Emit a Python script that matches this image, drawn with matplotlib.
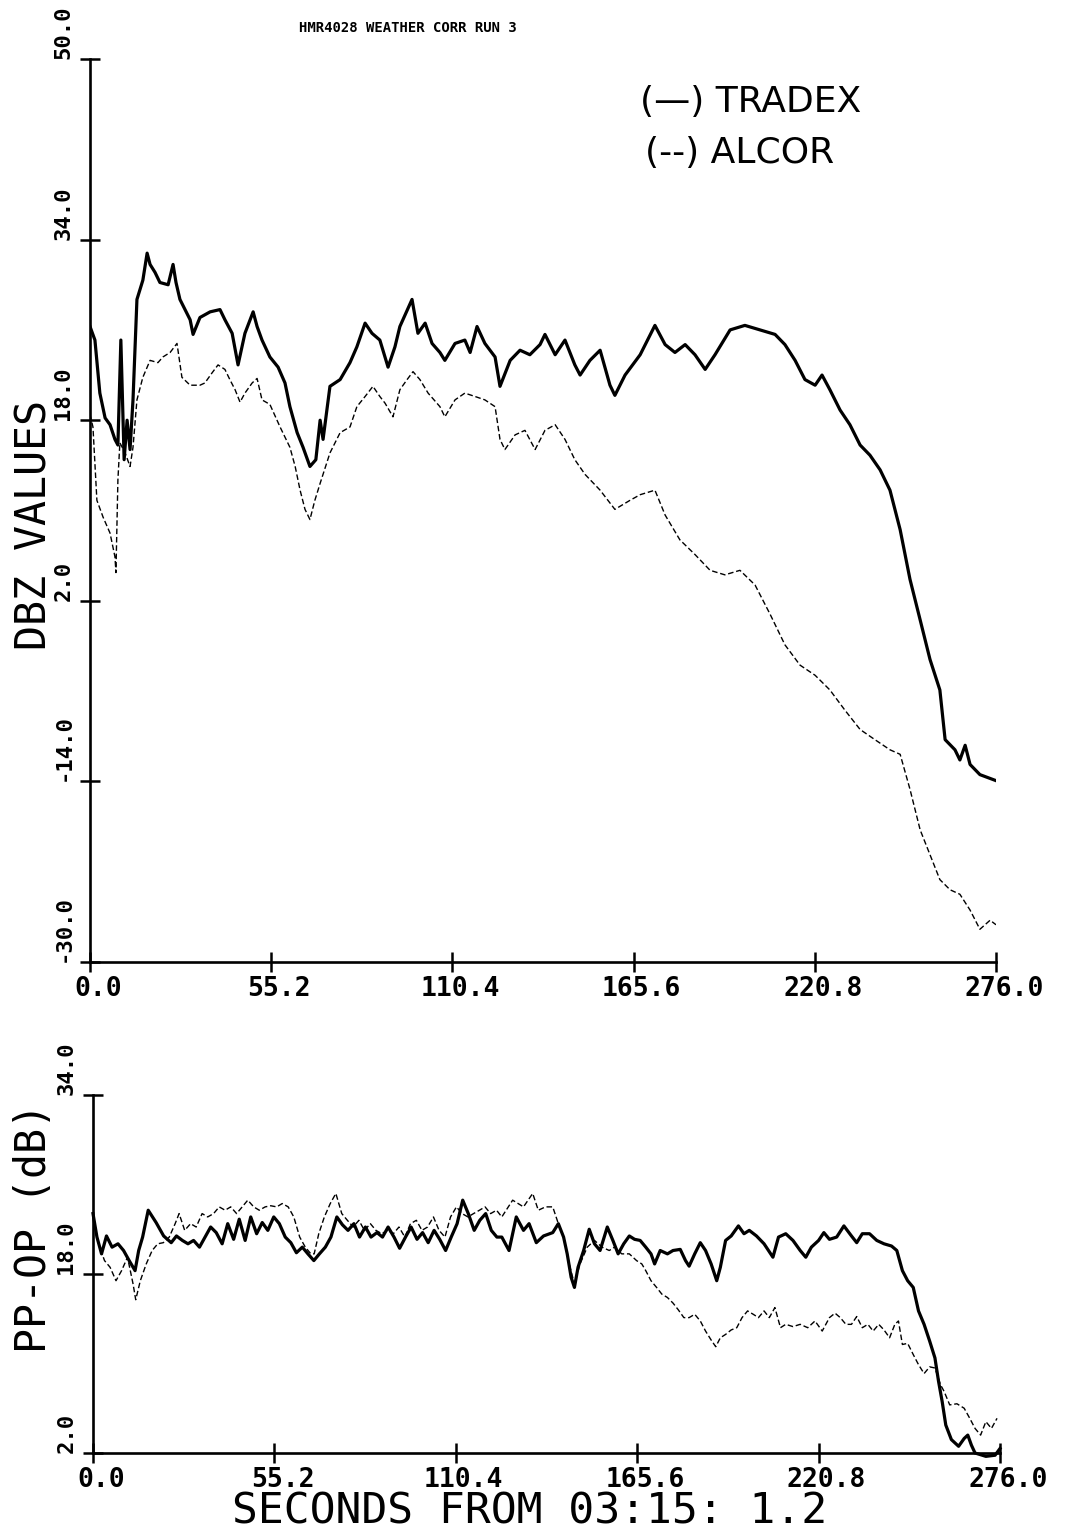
import numpy as np
import matplotlib
matplotlib.use('Agg')
import matplotlib.pyplot as plt
from matplotlib.transforms import ScaledTranslation

# ---- upper panel: DBZ values ----
tradex_t = [0.0, 1.5, 3.0, 4.6, 6.1, 7.6, 8.5, 9.4, 10.4, 11.3, 12.2, 13.1, 14.3, 16.1, 17.4, 18.3,
            19.8, 21.3, 23.8, 25.3, 26.2, 27.4, 30.5, 31.4, 33.5, 36.6, 39.6, 41.1, 43.3, 45.1, 47.2,
            49.7, 50.9, 52.4, 54.8, 57.3, 59.4, 60.9, 63.1, 64.9, 67.0, 68.8, 70.1, 71.0, 73.1, 76.2,
            79.2, 81.3, 83.8, 85.9, 88.3, 90.8, 92.9, 94.4, 98.1, 99.9, 102.1, 104.2, 106.6, 108.1,
            111.2, 114.2, 115.8, 117.9, 120.3, 123.4, 124.9, 128.0, 131.0, 134.0, 137.1, 138.6, 141.7,
            144.7, 147.7, 149.3, 152.3, 155.4, 158.4, 159.9, 163.0, 167.6, 172.1, 175.2, 178.2, 181.3,
            184.3, 187.4, 190.4, 195.0, 199.5, 204.1, 208.7, 211.7, 214.8, 217.8, 220.9, 223.0, 225.4,
            228.5, 231.5, 234.6, 237.6, 240.7, 243.7, 246.8, 249.8, 252.9, 255.9, 258.9, 260.5, 263.5,
            265.0, 266.6, 268.1, 271.1, 275.7]
tradex_dbz = [26.3, 25.1, 20.4, 18.2, 17.6, 16.3, 15.8, 25.1, 14.5, 18.0, 15.4, 19.8, 28.7, 30.4, 32.8,
              31.8, 31.1, 30.2, 30.0, 31.8, 30.2, 28.7, 26.9, 25.6, 27.1, 27.6, 27.8, 26.9, 25.7, 22.9,
              25.7, 27.6, 26.3, 25.1, 23.6, 22.7, 21.3, 19.2, 16.9, 15.6, 13.9, 14.5, 18.0, 16.3, 21.0,
              21.6, 23.1, 24.5, 26.6, 25.7, 25.1, 22.7, 24.5, 26.3, 28.7, 25.7, 26.6, 24.8, 24.0, 23.3,
              24.8, 25.1, 24.0, 26.3, 24.8, 23.6, 21.0, 23.3, 24.2, 23.8, 24.7, 25.6, 23.8, 25.1, 22.9,
              22.0, 23.3, 24.2, 21.1, 20.2, 22.0, 23.8, 26.4, 24.7, 24.0, 24.7, 23.8, 22.5, 23.8, 26.0,
              26.4, 26.0, 25.6, 24.7, 23.3, 21.6, 21.1, 22.0, 20.7, 18.9, 17.6, 15.8, 14.9, 13.6, 11.8,
              8.3, 3.9, 0.3, -3.2, -5.9, -10.3, -11.2, -12.1, -10.8, -12.5, -13.4, -13.9]

alcor_t = [0.0, 0.9, 2.1, 4.0, 6.1, 7.6, 7.9, 8.5, 9.1, 10.7, 12.2, 13.1, 14.3, 16.1, 18.3, 20.7, 22.2,
           24.4, 26.5, 28.0, 30.5, 33.5, 35.0, 37.2, 39.0, 41.1, 42.6, 44.2, 45.7, 47.2, 49.4, 50.9,
           52.4, 54.8, 57.9, 60.9, 62.5, 64.0, 65.5, 67.0, 68.5, 70.1, 73.1, 76.2, 79.2, 81.3, 83.8,
           86.2, 88.3, 89.9, 92.3, 94.4, 96.6, 98.4, 100.5, 103.0, 106.6, 108.1, 111.2, 114.2, 117.3,
           120.3, 123.4, 124.9, 126.4, 129.5, 132.5, 135.6, 138.6, 141.7, 144.7, 147.7, 150.8, 155.4,
           159.9, 164.5, 167.6, 172.1, 175.2, 179.7, 184.3, 188.9, 193.4, 198.0, 202.6, 207.2, 211.7,
           216.3, 220.9, 225.4, 230.0, 234.6, 239.1, 243.7, 246.8, 249.8, 252.9, 255.9, 258.9, 262.0,
           265.0, 268.1, 271.1, 274.2, 276.0]
alcor_dbz = [18.5, 17.4, 10.9, 9.4, 8.0, 5.9, 4.5, 12.7, 16.0, 15.1, 13.9, 15.6, 19.8, 21.8, 23.3, 23.1,
             23.6, 24.0, 24.8, 21.8, 21.1, 21.1, 21.3, 22.2, 22.9, 22.5, 21.6, 20.7, 19.6, 20.4, 21.3,
             21.7, 19.8, 19.4, 17.4, 15.6, 13.9, 11.8, 10.1, 9.2, 10.9, 12.4, 15.1, 16.9, 17.4, 19.2,
             20.1, 21.0, 20.1, 19.5, 18.3, 20.7, 21.6, 22.3, 21.6, 20.4, 19.2, 18.3, 19.8, 20.4, 20.1,
             19.8, 19.2, 16.3, 15.4, 16.7, 17.1, 15.4, 17.1, 17.6, 16.3, 14.5, 13.2, 11.8, 10.1, 10.9,
             11.4, 11.8, 9.6, 7.4, 6.1, 4.7, 4.3, 4.7, 3.4, 0.8, -1.9, -3.7, -4.6, -5.9, -7.7, -9.4,
             -10.3, -11.2, -11.6, -14.7, -18.3, -20.5, -22.7, -23.6, -24.0, -25.4, -27.1, -26.3, -26.7]

# ---- lower panel: PP-OP (dB) ----
tradex_pp_t = [0.0, 1.2, 2.6, 4.1, 5.8, 7.6, 9.3, 11.0, 12.8, 13.9, 15.1, 16.8, 19.2, 21.5, 23.8, 25.4,
               27.2, 28.9, 30.6, 32.4, 34.1, 35.8, 37.5, 39.3, 41.0, 42.8, 44.5, 46.3, 48.0, 49.8, 51.5,
               53.2, 55.0, 56.7, 58.5, 60.2, 61.9, 63.7, 65.4, 67.2, 68.9, 70.7, 72.4, 74.2, 75.9, 77.6,
               79.4, 81.1, 82.9, 84.6, 86.4, 88.1, 89.8, 91.6, 93.3, 95.1, 96.8, 98.6, 100.3, 102.0,
               103.8, 105.5, 107.3, 109.0, 110.8, 112.5, 114.2, 116.0, 117.7, 119.5, 121.2, 122.9,
               124.4, 126.6, 128.8, 131.0, 132.7, 134.9, 137.1, 139.9, 141.6, 143.2, 144.3, 145.5,
               146.5, 147.6, 149.3, 151.0, 152.6, 154.3, 156.5, 158.2, 159.8, 161.5, 163.2, 164.8,
               166.5, 168.2, 169.8, 170.9, 172.6, 174.8, 176.5, 178.7, 180.3, 181.4, 183.1, 184.8,
               186.4, 188.1, 189.8, 190.9, 192.5, 194.2, 196.4, 198.1, 199.7, 201.9, 204.2, 206.9,
               208.6, 210.8, 213.0, 215.2, 216.9, 218.6, 220.8, 222.4, 224.1, 226.3, 228.5, 230.8,
               232.4, 234.1, 236.3, 238.5, 240.7, 243.0, 244.6, 246.3, 247.9, 249.6, 251.2, 252.9,
               254.6, 256.2, 257.3, 258.4, 259.5, 261.2, 263.4, 265.1, 266.2, 267.3, 268.4, 271.7,
               274.5, 276.0]
tradex_pp = [23.4, 21.3, 19.8, 21.4, 20.4, 20.7, 20.1, 19.2, 18.3, 20.1, 21.3, 23.7, 22.6, 21.4, 20.8,
             21.4, 21.0, 20.7, 21.0, 20.4, 21.3, 22.2, 21.7, 20.7, 22.5, 21.1, 22.9, 21.0, 23.1, 21.6,
             22.6, 21.9, 23.1, 22.5, 21.3, 20.8, 19.9, 20.4, 19.8, 19.2, 19.8, 20.4, 21.3, 23.1, 22.4,
             21.9, 22.5, 21.3, 22.2, 21.3, 21.7, 21.3, 22.2, 21.3, 20.3, 21.3, 22.2, 21.1, 21.7, 20.8,
             21.9, 21.1, 20.1, 21.3, 22.5, 24.6, 23.4, 21.9, 22.8, 23.4, 21.9, 21.3, 21.3, 20.1, 23.1,
             21.9, 22.5, 20.8, 21.4, 21.7, 22.5, 21.3, 19.8, 17.7, 16.8, 18.6, 20.1, 22.0, 20.7, 20.1,
             22.2, 21.0, 19.8, 20.7, 21.4, 21.1, 21.0, 20.4, 19.8, 18.9, 20.1, 19.8, 20.1, 20.2, 19.2,
             18.7, 19.8, 20.8, 20.1, 18.9, 17.4, 18.6, 21.0, 21.4, 22.3, 21.6, 21.9, 21.4, 20.7, 19.5,
             21.3, 21.6, 21.0, 20.1, 19.5, 20.4, 21.0, 21.7, 21.1, 21.3, 22.3, 21.4, 20.8, 21.6, 21.6,
             21.0, 20.7, 20.5, 20.1, 18.3, 17.4, 16.8, 14.7, 13.5, 12.0, 10.5, 8.4, 6.6, 4.5, 3.2, 2.6,
             3.3, 3.6, 2.7, 2.0, 1.7, 1.8, 2.4]

alcor_pp_t = [0.0, 1.7, 3.5, 5.2, 7.0, 8.7, 10.5, 12.2, 13.0, 14.4, 16.2, 18.0, 19.7, 21.4, 23.2, 25.0,
              26.2, 27.9, 29.7, 31.4, 33.2, 34.9, 36.7, 38.4, 40.2, 41.9, 43.7, 45.4, 47.1, 48.9, 50.6,
              52.4, 54.1, 55.9, 57.6, 59.4, 61.1, 62.9, 64.6, 66.3, 67.3, 68.7, 70.4, 72.2, 73.9, 75.7,
              77.4, 79.2, 80.9, 82.6, 84.4, 86.1, 87.9, 89.6, 91.4, 93.1, 94.9, 96.6, 98.4, 100.1,
              101.8, 103.6, 105.3, 107.1, 108.8, 110.6, 112.3, 114.1, 115.8, 117.6, 119.3, 121.0,
              122.8, 124.4, 127.7, 131.0, 133.8, 135.5, 137.7, 139.9, 141.6, 143.2, 144.9, 146.5,
              148.2, 150.4, 152.6, 154.9, 157.1, 158.7, 160.9, 163.2, 165.4, 167.0, 168.2, 169.8,
              171.5, 173.1, 174.8, 176.5, 178.1, 179.8, 181.4, 183.1, 184.8, 186.4, 188.1, 189.5,
              190.9, 192.5, 194.2, 195.9, 197.5, 199.2, 200.9, 202.5, 204.2, 205.8, 207.5, 209.2,
              210.8, 213.0, 215.2, 217.5, 219.7, 221.9, 224.1, 225.8, 227.4, 229.1, 230.8, 232.4,
              234.1, 235.8, 237.4, 239.1, 240.7, 242.4, 244.0, 245.1, 246.3, 247.9, 249.6, 251.2,
              252.9, 254.6, 256.2, 257.9, 259.0, 260.7, 262.9, 265.1, 266.8, 268.4, 270.1, 271.7,
              273.4, 275.1]
alcor_pp = [23.1, 20.7, 19.2, 18.6, 17.4, 18.3, 19.5, 17.1, 15.7, 17.4, 18.9, 20.1, 20.7, 20.8, 21.3,
            22.5, 23.4, 21.9, 22.5, 22.2, 23.4, 23.1, 23.4, 24.0, 23.7, 24.0, 23.4, 24.0, 24.6, 24.0,
            23.7, 24.0, 24.1, 24.0, 24.3, 24.0, 23.1, 21.3, 20.4, 19.8, 19.8, 21.6, 23.1, 24.3, 25.2,
            23.4, 22.8, 22.2, 22.8, 21.9, 22.5, 21.9, 21.6, 21.9, 21.6, 22.2, 21.3, 22.5, 22.8, 21.9,
            22.2, 23.1, 21.9, 21.3, 23.1, 24.0, 23.4, 23.1, 23.4, 23.7, 24.0, 23.4, 23.7, 23.1, 24.6,
            24.0, 25.2, 23.7, 24.0, 24.0, 22.5, 21.3, 18.9, 17.1, 18.9, 20.4, 21.0, 20.4, 20.1, 20.4,
            19.8, 19.8, 19.2, 18.9, 18.3, 17.4, 16.8, 16.2, 15.9, 15.4, 14.8, 14.1, 14.1, 14.4, 13.8,
            12.9, 12.1, 11.5, 12.3, 12.6, 13.0, 13.2, 14.1, 14.7, 14.4, 14.1, 14.7, 14.1, 15.0, 13.2,
            13.5, 13.3, 13.5, 13.2, 13.8, 12.9, 14.1, 14.5, 14.1, 13.5, 13.5, 14.2, 13.2, 13.5, 12.9,
            13.5, 13.0, 12.3, 13.5, 13.8, 11.7, 11.8, 10.8, 9.9, 9.1, 9.7, 9.6, 8.1, 7.5, 6.3, 6.4,
            6.0, 5.1, 4.2, 3.6, 4.8, 4.2, 5.1]

x_ticks = [0.0, 55.2, 110.4, 165.6, 220.8, 276.0]
dbz_ticks = [-30.0, -14.0, 2.0, 18.0, 34.0, 50.0]
pp_ticks = [2.0, 18.0, 34.0]

W, H = 1073, 1536
fig = plt.figure(figsize=(W / 100, H / 100), dpi=100)
mono = 'DejaVu Sans Mono'

ax1 = fig.add_axes([90 / W, 1 - 962 / H, 906 / W, 903 / H])
ax2 = fig.add_axes([93 / W, 1 - 1453 / H, 907 / W, 358 / H])

ax1.plot(tradex_t, tradex_dbz, color='black', lw=2.3, solid_joinstyle='round')
ax1.plot(alcor_t, alcor_dbz, color='black', lw=1.0, linestyle=(0, (4, 2)))
ax2.plot(tradex_pp_t, tradex_pp, color='black', lw=2.3, solid_joinstyle='round', clip_on=False)
ax2.plot(alcor_pp_t, alcor_pp, color='black', lw=1.0, linestyle=(0, (4, 2)), clip_on=False)

ax1.set_ylim(-30, 50)
ax2.set_ylim(2, 34)
x_shift = ScaledTranslation(0.08, 0, fig.dpi_scale_trans)
for ax, yt in ((ax1, dbz_ticks), (ax2, pp_ticks)):
    ax.set_xlim(0, 276)
    for s in ('top', 'right'):
        ax.spines[s].set_visible(False)
    for s in ('left', 'bottom'):
        ax.spines[s].set_linewidth(1.9)
    ax.set_xticks(x_ticks, ['%.1f' % v for v in x_ticks])
    ax.set_yticks(yt, ['%.1f' % v for v in yt], rotation=90, va='bottom')
    ax.tick_params(direction='inout', length=14, width=1.8)
    ax.tick_params(axis='x', labelsize=19, pad=3)
    ax.tick_params(axis='y', labelsize=16, pad=5)
    for lab in ax.get_xticklabels():
        lab.set_fontfamily(mono)
        lab.set_fontweight('bold')
        lab.set_transform(lab.get_transform() + x_shift)
    for lab in ax.get_yticklabels():
        lab.set_fontfamily(mono)
        lab.set_fontweight('bold')

ax1.set_ylabel('DBZ VALUES', fontsize=30, family=mono)
ax1.yaxis.set_label_coords(-0.038, 0.484)
ax2.set_ylabel('PP-OP (dB)', fontsize=30, family=mono)
ax2.yaxis.set_label_coords(-0.042, 0.628)

ax1.text(0.607, 0.952, '(\u2014) TRADEX', transform=ax1.transAxes, fontsize=26,
         va='center', ha='left')
ax1.text(0.613, 0.896, '(--) ALCOR', transform=ax1.transAxes, fontsize=26,
         va='center', ha='left')

fig.text(408 / W, 1 - 28 / H, 'HMR4028 WEATHER CORR RUN 3', fontsize=10, fontweight='bold',
         family=mono, ha='center', va='center')
fig.text(530 / W, 1 - 1512 / H, 'SECONDS FROM 03:15: 1.2', fontsize=31, family=mono,
         ha='center', va='center')

fig.savefig('out.png', dpi=100)
